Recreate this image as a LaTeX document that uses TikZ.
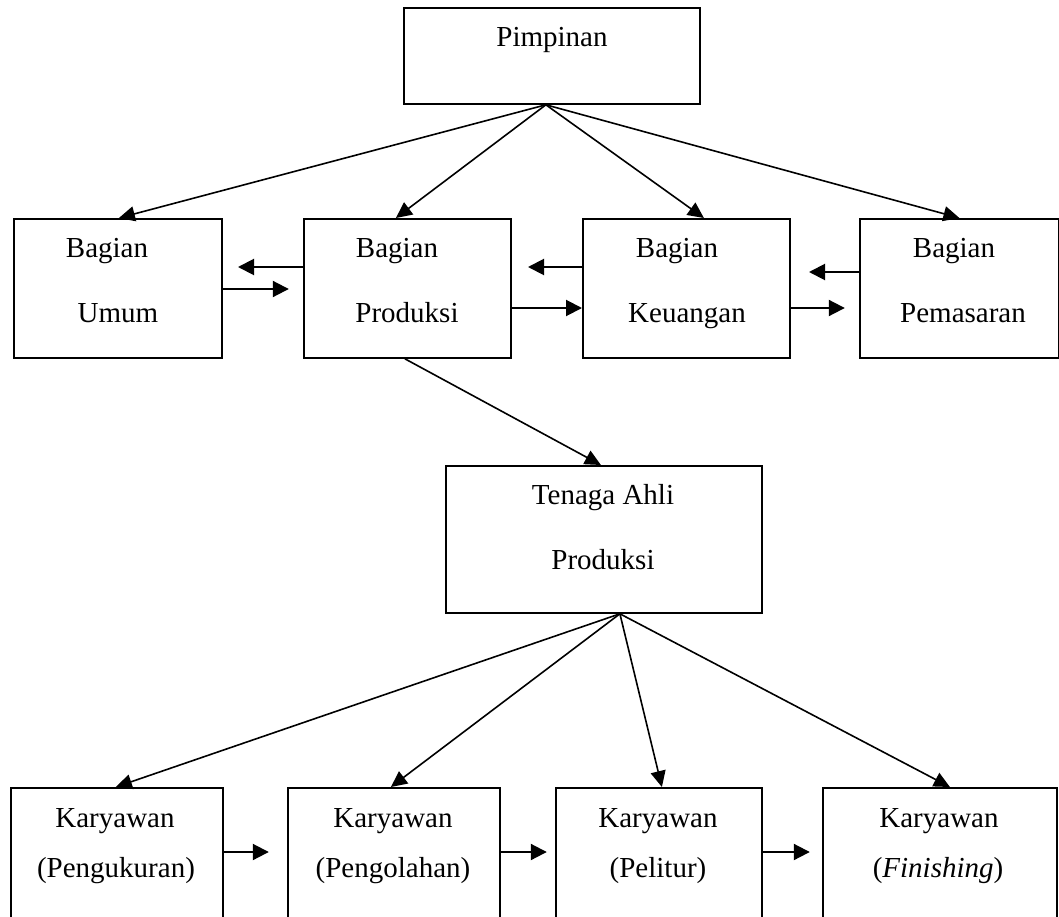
\documentclass[tikz,border=0pt]{standalone}
\usepackage{fontspec}
\setmainfont{Liberation Serif}
\usetikzlibrary{arrows.meta,calc}
\tikzset{
  box/.style={draw, line width=1.8pt, inner sep=0pt, anchor=north west},
  lbl/.style={inner sep=0pt, font=\fontsize{29}{34}\selectfont, text height=19pt, text depth=0pt, anchor=center},
  conn/.style={line width=1.6pt, -{Triangle[length=16pt,width=15pt]}},
  harr/.style={line width=2pt, -{Triangle[length=16pt,width=16pt]}}
}
\begin{document}
\begin{tikzpicture}[x=1pt,y=-1pt]
\useasboundingbox (0,0) rectangle (1059,917);
% boxes
\node[box, minimum width=296pt, minimum height=96pt] (pim) at (403,7) {};
\node[box, minimum width=208pt, minimum height=139pt] (umum) at (13,218) {};
\node[box, minimum width=207pt, minimum height=139pt] (prod) at (303,218) {};
\node[box, minimum width=207pt, minimum height=139pt] (keu) at (582,218) {};
\node[box, minimum width=199pt, minimum height=139pt] (pem) at (859,218) {};
\node[box, minimum width=316pt, minimum height=147pt] (ahli) at (445,465) {};
\node[box, minimum width=212pt, minimum height=131pt] (ukur) at (10,787) {};
\node[box, minimum width=212pt, minimum height=131pt] (olah) at (287,787) {};
\node[box, minimum width=206pt, minimum height=131pt] (pel) at (555,787) {};
\node[box, minimum width=234pt, minimum height=131pt] (fin) at (822,787) {};
% labels
\node[lbl] (tpim) at (552,37) {Pimpinan};
\node[lbl] (tumum1) at (107,248) {Bagian};
\node[lbl] (tumum2) at (118,313) {Umum};
\node[lbl] (tprod1) at (397,248) {Bagian};
\node[lbl] (tprod2) at (407,313) {Produksi};
\node[lbl] (tkeu1) at (677,248) {Bagian};
\node[lbl] (tkeu2) at (687,313) {Keuangan};
\node[lbl] (tpem1) at (954,248) {Bagian};
\node[lbl] (tpem2) at (963,313) {Pemasaran};
\node[lbl] (tahli1) at (603,495) {Tenaga Ahli};
\node[lbl] (tahli2) at (603,560) {Produksi};
\node[lbl] (tukur1) at (115,818) {Karyawan};
\node[lbl] (tukur2) at (116,868) {(Pengukuran)};
\node[lbl] (tolah1) at (393,818) {Karyawan};
\node[lbl] (tolah2) at (393,868) {(Pengolahan)};
\node[lbl] (tpel1) at (658,818) {Karyawan};
\node[lbl] (tpel2) at (658,868) {(Pelitur)};
\node[lbl] (tfin1) at (939,818) {Karyawan};
\node[lbl] (tfin2) at (938,868) {(\textit{Finishing})};
% top connectors
\draw[conn] ([xshift=-6pt]pim.south) -- ([xshift=1pt]umum.north);
\draw[conn] ([xshift=-6pt]pim.south) -- ([xshift=-11.5pt]prod.north);
\draw[conn] ([xshift=-6pt]pim.south) -- ([xshift=17.5pt]keu.north);
\draw[conn] ([xshift=-6pt]pim.south) -- (pem.north);
\draw[conn] ([xshift=-2.5pt]prod.south) -- ([xshift=-3pt]ahli.north);
\draw[conn] ([xshift=16pt]ahli.south) -- ([xshift=-1pt]ukur.north);
\draw[conn] ([xshift=16pt]ahli.south) -- ([xshift=-3pt]olah.north);
\draw[conn] ([xshift=16pt]ahli.south) -- ([xshift=3pt]pel.north);
\draw[conn] ([xshift=16pt]ahli.south) -- ([xshift=10pt]fin.north);
% horizontal arrows row 2
\draw[harr] (prod.west |- 0,267) -- ++(-65,0);
\draw[harr] (umum.east |- 0,289) -- ++(66,0);
\draw[harr] (keu.west |- 0,267) -- ++(-54,0);
\draw[harr] (prod.east |- 0,308) -- (keu.west |- 0,308);
\draw[harr] (pem.west |- 0,272) -- ++(-50,0);
\draw[harr] (keu.east |- 0,308) -- ++(54,0);
% horizontal arrows row 3
\draw[harr] (ukur.east |- 0,852) -- ++(45,0);
\draw[harr] (olah.east |- 0,852) -- ++(46,0);
\draw[harr] (pel.east |- 0,852) -- ++(47,0);
\end{tikzpicture}
\end{document}
